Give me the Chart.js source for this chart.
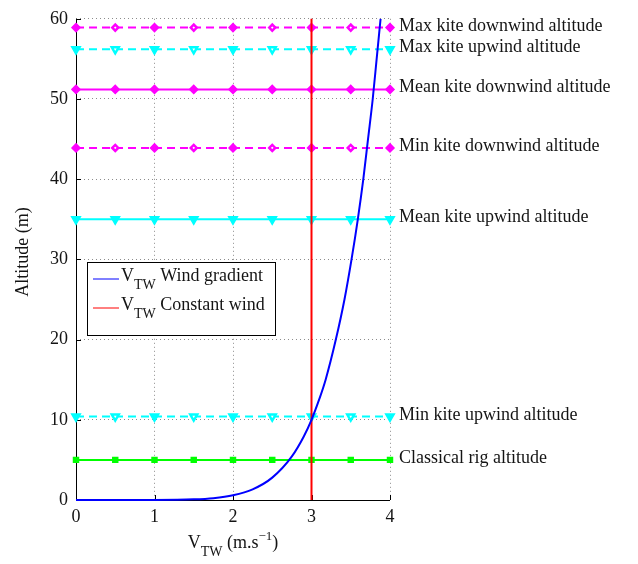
<!DOCTYPE html>
<html>
<head>
<meta charset="utf-8">
<script src="https://cdn.jsdelivr.net/npm/chart.js@4.4.1/dist/chart.umd.min.js"></script>
<style>
  body { margin: 0; background: #fff; }
  canvas { display: block; }
</style>
</head>
<body>
<canvas id="altitude-chart" width="638" height="564"></canvas>
<script>
// marker positions along the horizontal reference lines
const markerSpeeds = [0, 0.5, 1, 1.5, 2, 2.5, 3, 3.5, 4];

// reference altitudes (m)
const levelNames = [
  "Max kite downwind altitude",
  "Max kite upwind altitude",
  "Mean kite downwind altitude",
  "Min kite downwind altitude",
  "Mean kite upwind altitude",
  "Min kite upwind altitude",
  "Classical rig altitude"
];
const levelAltitudes = [58.9, 56.2, 51.2, 43.9, 35.0, 10.4, 5.0];

// wind gradient profile: speed (m/s) vs altitude (m)
const gradientSpeed    = [0, 0.5, 1, 1.5, 1.75, 2, 2.25, 2.5, 2.75, 2.9, 3, 3.1, 3.18, 3.31, 3.42, 3.51, 3.59, 3.66, 3.72, 3.78, 3.83, 3.88];
const gradientAltitude = [0, 0, 0.005, 0.08, 0.23, 0.59, 1.33, 2.79, 5.44, 7.89, 10, 12.6, 15, 20, 25, 30, 35, 40, 45, 50, 55, 60];

// constant wind
const constantSpeed = [3, 3];
const constantAltitude = [0, 60];

const xTicks = [0, 1, 2, 3, 4];
const yTicks = [0, 10, 20, 30, 40, 50, 60];

const SERIF = "'Liberation Serif', 'Times New Roman', serif";
const TEXT = '#141414';

// line styles for each level
const levelStyle = [
  { color: '#ff00ff', dash: [8, 5], shape: 'rectRot', r: 4, alt: true },
  { color: '#00ffff', dash: [8, 5], shape: 'triangle', r: 5, alt: true },
  { color: '#ff00ff', dash: [], shape: 'rectRot', r: 4, alt: false },
  { color: '#ff00ff', dash: [8, 5], shape: 'rectRot', r: 4, alt: true },
  { color: '#00ffff', dash: [], shape: 'triangle', r: 5, alt: false },
  { color: '#00ffff', dash: [8, 5], shape: 'triangle', r: 5, alt: true },
  { color: '#00ff00', dash: [], shape: 'rect', r: 3.5, alt: false }
];

const levelSets = levelAltitudes.map((alt, i) => {
  const s = levelStyle[i];
  const hollow = markerSpeeds.map((v, k) => s.alt && k % 2 === 1);
  return {
    label: levelNames[i],
    data: markerSpeeds.map(v => ({ x: v, y: alt })),
    borderColor: s.color,
    borderWidth: 2,
    borderDash: s.dash,
    pointStyle: s.shape,
    pointRotation: s.shape === 'triangle' ? 180 : 0,
    pointRadius: hollow.map(h => h ? s.r - 1 : s.r),
    pointBorderWidth: hollow.map(h => h ? 2.5 : 1.5),
    pointBorderColor: s.color,
    pointBackgroundColor: hollow.map(h => h ? '#ffffff' : s.color),
    clip: false,
    order: 3
  };
});

const gradientSet = {
  label: 'gradient',
  data: gradientSpeed.map((v, i) => ({ x: v, y: gradientAltitude[i] })),
  borderColor: '#0000ff',
  borderWidth: 2,
  pointRadius: 0,
  cubicInterpolationMode: 'monotone',
  clip: false,
  order: 1
};

const constantSet = {
  label: 'constant',
  data: constantSpeed.map((v, i) => ({ x: v, y: constantAltitude[i] })),
  borderColor: '#ff0000',
  borderWidth: 2,
  pointRadius: 0,
  clip: false,
  order: 2
};

// text with a sub- or superscript part, returns the end x
function richText(ctx, parts, x, y) {
  parts.forEach(p => {
    ctx.font = p.size + 'px ' + SERIF;
    ctx.fillText(p.t, x, y + (p.dy || 0));
    x += ctx.measureText(p.t).width;
  });
  return x;
}
function richWidth(ctx, parts) {
  let w = 0;
  parts.forEach(p => { ctx.font = p.size + 'px ' + SERIF; w += ctx.measureText(p.t).width; });
  return w;
}

const decorations = {
  id: 'decorations',
  beforeDatasetsDraw(chart) {
    const { ctx, chartArea: a, scales: { x, y } } = chart;
    ctx.save();
    ctx.strokeStyle = '#000';
    ctx.lineWidth = 1;
    ctx.beginPath();
    ctx.moveTo(a.left + 0.5, a.top);
    ctx.lineTo(a.left + 0.5, a.bottom + 0.5);
    ctx.lineTo(a.right, a.bottom + 0.5);
    // inward ticks
    yTicks.forEach(v => {
      const py = Math.round(y.getPixelForValue(v)) + 0.5;
      ctx.moveTo(a.left, py); ctx.lineTo(a.left + 5, py);
    });
    xTicks.forEach(v => {
      const px = Math.round(x.getPixelForValue(v)) + 0.5;
      ctx.moveTo(px, a.bottom); ctx.lineTo(px, a.bottom - 5);
    });
    ctx.stroke();
    ctx.restore();
  },
  afterDraw(chart) {
    const { ctx, chartArea: a, scales: { x, y } } = chart;
    ctx.save();
    ctx.fillStyle = TEXT;
    ctx.textBaseline = 'alphabetic';
    ctx.textAlign = 'left';

    // level names at the right of the plot
    levelAltitudes.forEach((alt, i) => {
      ctx.font = '18px ' + SERIF;
      ctx.fillText(levelNames[i], a.right + 9, y.getPixelForValue(alt) + 3);
    });

    // x axis title
    const xt = [
      { t: 'V', size: 18 },
      { t: 'TW', size: 14, dy: 8 },
      { t: ' (m.s', size: 18 },
      { t: '\u22121', size: 13, dy: -8 },
      { t: ')', size: 18 }
    ];
    const cx = (a.left + a.right) / 2;
    richText(ctx, xt, cx - richWidth(ctx, xt) / 2, 548);

    // y axis title
    ctx.save();
    ctx.translate(28, 252);
    ctx.rotate(-Math.PI / 2);
    ctx.textAlign = 'center';
    ctx.font = '18px ' + SERIF;
    ctx.fillText('Altitude (m)', 0, 0);
    ctx.restore();

    // legend
    const lx = 87, ly = 262, lw = 188, lh = 73;
    ctx.fillStyle = '#fff';
    ctx.fillRect(lx, ly, lw, lh);
    ctx.strokeStyle = '#000';
    ctx.lineWidth = 1;
    ctx.strokeRect(lx + 0.5, ly + 0.5, lw, lh);
    const rows = [
      { color: '#0000ff', text: ' Wind gradient', base: 281 },
      { color: '#ff0000', text: ' Constant wind', base: 310 }
    ];
    rows.forEach(r => {
      ctx.strokeStyle = r.color;
      ctx.beginPath();
      ctx.moveTo(93, r.base - 2);
      ctx.lineTo(119, r.base - 2);
      ctx.stroke();
      ctx.fillStyle = TEXT;
      richText(ctx, [
        { t: 'V', size: 18 },
        { t: 'TW', size: 14, dy: 8 },
        { t: r.text, size: 18 }
      ], 121, r.base);
    });
    ctx.restore();
  }
};

new Chart(document.getElementById('altitude-chart'), {
  type: 'scatter',
  data: { datasets: [gradientSet, constantSet].concat(levelSets) },
  options: {
    responsive: false,
    animation: false,
    showLine: true,
    events: [],
    layout: { padding: { left: 0, right: 248, top: 12, bottom: 0 } },
    plugins: { legend: { display: false }, tooltip: { enabled: false } },
    scales: {
      x: {
        type: 'linear', min: 0, max: 4,
        afterFit: s => { s.height = 64; },
        afterBuildTicks: s => { s.ticks = xTicks.map(v => ({ value: v })); },
        ticks: { padding: 6, color: TEXT, font: { family: SERIF, size: 18 } },
        grid: { color: '#8c8c8c', lineWidth: 1, drawTicks: false },
        border: { display: false, dash: [1, 3] }
      },
      y: {
        type: 'linear', min: 0, max: 60,
        afterFit: s => { s.width = 76; },
        afterBuildTicks: s => { s.ticks = yTicks.map(v => ({ value: v })); },
        ticks: { padding: 8, color: TEXT, font: { family: SERIF, size: 18 } },
        grid: { color: '#8c8c8c', lineWidth: 1, drawTicks: false },
        border: { display: false, dash: [1, 3] }
      }
    }
  },
  plugins: [decorations]
});
</script>
</body>
</html>
